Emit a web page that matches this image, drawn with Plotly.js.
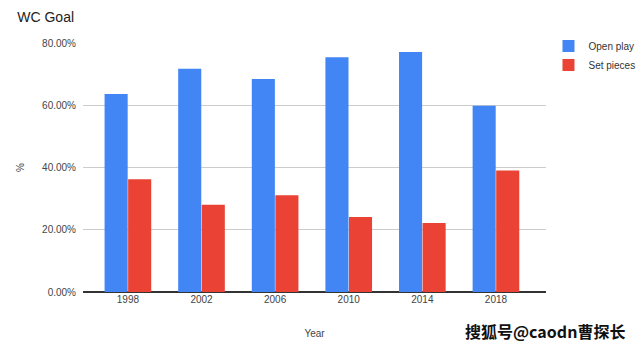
<!DOCTYPE html>
<html>
<head>
<meta charset="utf-8">
<script src="https://cdn.plot.ly/plotly-3.0.1.min.js"></script>
<style>html,body{margin:0;padding:0;background:#fff;}#chart{width:640px;height:351px;}</style>
</head>
<body>
<div id="chart"></div>
<script>
const years = ["1998", "2002", "2006", "2010", "2014", "2018"];
const openPlay = [63.6, 71.7, 68.4, 75.4, 77.1, 59.8];
const setPieces = [36.2, 28.0, 31.1, 24.1, 22.2, 39.0];
const yTicks = [0, 20, 40, 60, 80];

const font = "Liberation Sans, Arial, sans-serif";
const data = [
  {type: "bar", name: "Open play", x: years, y: openPlay, marker: {color: "#4285F4"}},
  {type: "bar", name: "Set pieces", x: years, y: setPieces, marker: {color: "#EA4335"}}
];
const layout = {
  width: 640, height: 351,
  margin: {l: 83, r: 94, t: 43, b: 59, autoexpand: false},
  paper_bgcolor: "#fff", plot_bgcolor: "#fff",
  font: {family: font, size: 10, color: "#444"},
  title: {text: "WC Goal", x: 0.027, xanchor: "left", y: 0.95, yanchor: "middle", font: {family: font, size: 14, color: "#222"}},
  barmode: "group", bargap: 0.36, bargroupgap: 0.02,
  xaxis: {type: "category", range: [-0.61, 5.68], showgrid: false, showline: false, zeroline: false, ticks: "", ticklen: 0,
    tickfont: {size: 10, color: "#444"},
    title: {text: "Year", font: {size: 10, color: "#444"}, standoff: 25}},
  yaxis: {range: [0, 80], tickvals: yTicks, ticktext: yTicks.map(v => v.toFixed(2) + "%"),
    showgrid: true, gridcolor: "#cccccc", gridwidth: 1, zeroline: true, zerolinecolor: "#333", zerolinewidth: 2,
    tickfont: {size: 10, color: "#444"}, ticks: "", ticklabelstandoff: 6,
    title: {text: "%", font: {size: 10, color: "#444"}, standoff: 15}},
  showlegend: true,
  legend: {xref: "container", x: 0.857, y: 1.046, xanchor: "left", yanchor: "top", font: {size: 10, color: "#333"}, itemwidth: 30, tracegroupgap: 5},
  annotations: [{text: "搜狐号@caodn曹探长", xref: "paper", yref: "paper", x: 1.175, y: -0.155, xanchor: "right", yanchor: "middle",
    showarrow: false, font: {family: "Noto Sans CJK SC, sans-serif", size: 16, color: "#111", weight: "bold"}}]
};
Plotly.newPlot("chart", data, layout, {displayModeBar: false, staticPlot: true});
</script>
</body>
</html>
